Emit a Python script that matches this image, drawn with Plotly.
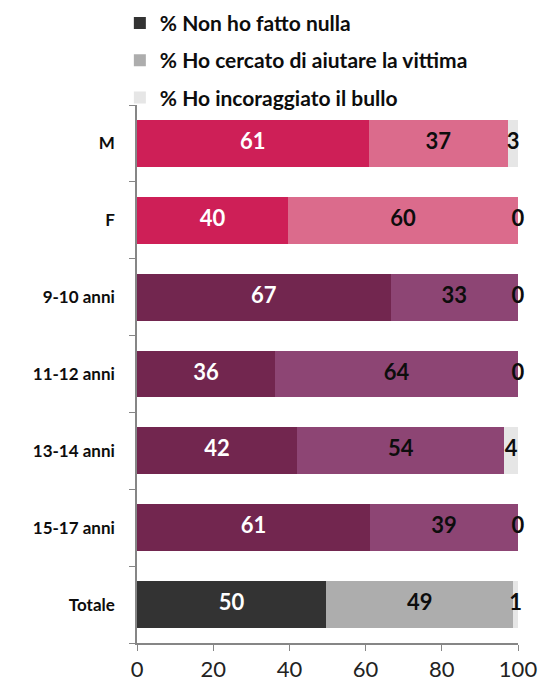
import plotly.graph_objects as go

# categories bottom -> top (plotly draws the first category at the bottom)
categories = ["Totale", "15-17 anni", "13-14 anni", "11-12 anni", "9-10 anni", "F", "M"]
nulla = [49.6, 61.2, 42.0, 36.2, 66.6, 39.6, 60.8]
aiutare = [49.2, 38.8, 54.4, 63.8, 33.4, 60.4, 36.6]
bullo = [1.2, 0.0, 3.6, 0.0, 0.0, 0.0, 2.6]
series_names = ["% Non ho fatto nulla", "% Ho cercato di aiutare la vittima", "% Ho incoraggiato il bullo"]

# colours per row: gray for Totale, purple for the age groups, pink for M/F
dark = ["#333333"] + ["#72264F"] * 4 + ["#CE1F57"] * 2
mid = ["#ADADAD"] + ["#8D4574"] * 4 + ["#DB6B8C"] * 2
light = ["#E6E6E6"] * 7

FONT = "Lato"

fig = go.Figure()
series = [nulla, aiutare, bullo]
colors = [dark, mid, light]
for i, (vals, col, name) in enumerate(zip(series, colors, series_names)):
    fig.add_trace(go.Bar(y=categories, x=vals, orientation="h", name=name,
                         marker=dict(color=col, line=dict(width=0)),
                         legendgroup=str(i), hoverinfo="skip"))

# data labels centred in each segment
base = [0] * len(categories)
label_colors = ["white", "#0d0d0d", "#0d0d0d"]
for vals, lc in zip(series, label_colors):
    centres = [b + v / 2 for b, v in zip(base, vals)]
    fig.add_trace(go.Scatter(y=categories, x=centres, mode="text",
                             text=[f"{v:.0f}" for v in vals],
                             textfont=dict(family=FONT, size=22, color=lc, weight="bold"),
                             showlegend=False, cliponaxis=False, hoverinfo="skip"))
    base = [b + v for b, v in zip(base, vals)]

fig.update_layout(
    barmode="stack", bargap=0.39,
    width=541, height=686,
    margin=dict(l=137, r=23, t=105, b=43, autoexpand=False),
    plot_bgcolor="white", paper_bgcolor="white",
    font=dict(family=FONT, color="#0d0d0d"),
    legend=dict(x=-0.045, y=1.19, xanchor="left", yanchor="top",
                traceorder="grouped", tracegroupgap=7,
                font=dict(family=FONT, size=21, color="#0d0d0d", weight="bold"),
                bgcolor="rgba(0,0,0,0)"),
)
fig.update_xaxes(range=[0, 100], dtick=20, showgrid=False, zeroline=False,
                 showline=True, linecolor="#868686", linewidth=1.5, automargin=False,
                 ticks="outside", ticklen=6, tickcolor="#868686",
                 tickfont=dict(family=FONT, size=22, color="#222222"))
fig.update_yaxes(showgrid=False, showline=True, linecolor="#868686", linewidth=1.5,
                 ticks="outside", ticklen=6, tickcolor="#868686", tickson="boundaries",
                 ticklabelstandoff=17, automargin=False,
                 tickfont=dict(family=FONT, size=17, color="#0d0d0d", weight="bold"))

# page body has an 8px default margin; drop it so the figure sits at the window origin
fig.write_html("out.html", config={"displayModeBar": False},
               post_script="document.body.style.margin='0';")
